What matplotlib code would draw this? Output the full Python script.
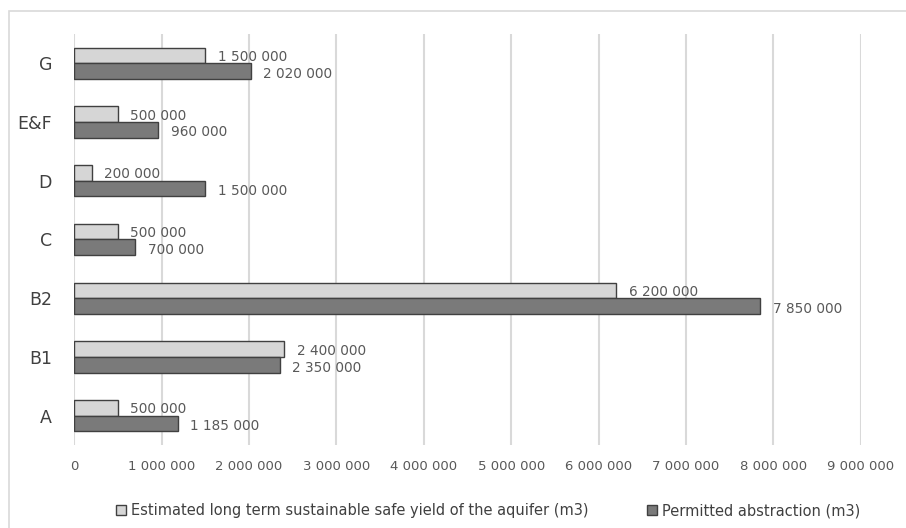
import matplotlib
matplotlib.use("Agg")
import matplotlib.pyplot as plt
import numpy as np
from matplotlib.patches import Rectangle

categories = ["A", "B1", "B2", "C", "D", "E&F", "G"]
safe_yield = [500000, 2400000, 6200000, 500000, 200000, 500000, 1500000]
permitted = [1185000, 2350000, 7850000, 700000, 1500000, 960000, 2020000]
x_ticks = [0, 1000000, 2000000, 3000000, 4000000, 5000000, 6000000, 7000000, 8000000, 9000000]

label_yield = "Estimated long term sustainable safe yield of the aquifer (m3)"
label_permitted = "Permitted abstraction (m3)"


def fmt(v):
    # thousands separated by spaces
    return "{:,}".format(v).replace(",", " ")


fig = plt.figure(figsize=(9.06, 5.28), dpi=100)
# outer chart border
fig.patches.append(Rectangle((0.010, -0.05), 1.2, 1.03, transform=fig.transFigure,
                             fill=False, edgecolor="#d9d9d9", linewidth=1.2))
ax = fig.add_axes([0.082, 0.157, 0.868, 0.779])

y = np.arange(len(categories))
h = 0.265
ax.barh(y + h / 2, safe_yield, height=h, color="#d6d6d6", edgecolor="#404040",
        linewidth=1.0, label=label_yield, zorder=3)
ax.barh(y - h / 2, permitted, height=h, color="#7a7a7a", edgecolor="#404040",
        linewidth=1.0, label=label_permitted, zorder=3)

for yi, v in zip(y, safe_yield):
    ax.annotate(fmt(v), (v, yi + h / 2), xytext=(9, -1), textcoords="offset points",
                va="center", ha="left", fontsize=9.8, color="#595959")
for yi, v in zip(y, permitted):
    ax.annotate(fmt(v), (v, yi - h / 2), xytext=(9, -2), textcoords="offset points",
                va="center", ha="left", fontsize=9.8, color="#595959")

ax.set_xlim(0, 9000000)
ax.set_ylim(-0.5, len(categories) - 0.5)
ax.set_xticks(x_ticks)
ax.set_xticklabels([fmt(t) for t in x_ticks], fontsize=9.5, color="#595959")
ax.set_yticks(y)
ax.set_yticklabels(categories, fontsize=12.5, color="#404040")
ax.tick_params(axis="both", length=0)
ax.tick_params(axis="x", pad=11)
ax.tick_params(axis="y", pad=16)
ax.grid(axis="x", color="#d9d9d9", linewidth=1.5, zorder=0)
for s in ax.spines.values():
    s.set_visible(False)

ax.legend(loc="center", bbox_to_anchor=(0.526, -0.16), ncol=2, frameon=False,
          fontsize=10.5, labelcolor="#404040", handlelength=0.7, handleheight=0.7,
          handletextpad=0.35, columnspacing=4.0)

fig.savefig("out.png", dpi=100)
